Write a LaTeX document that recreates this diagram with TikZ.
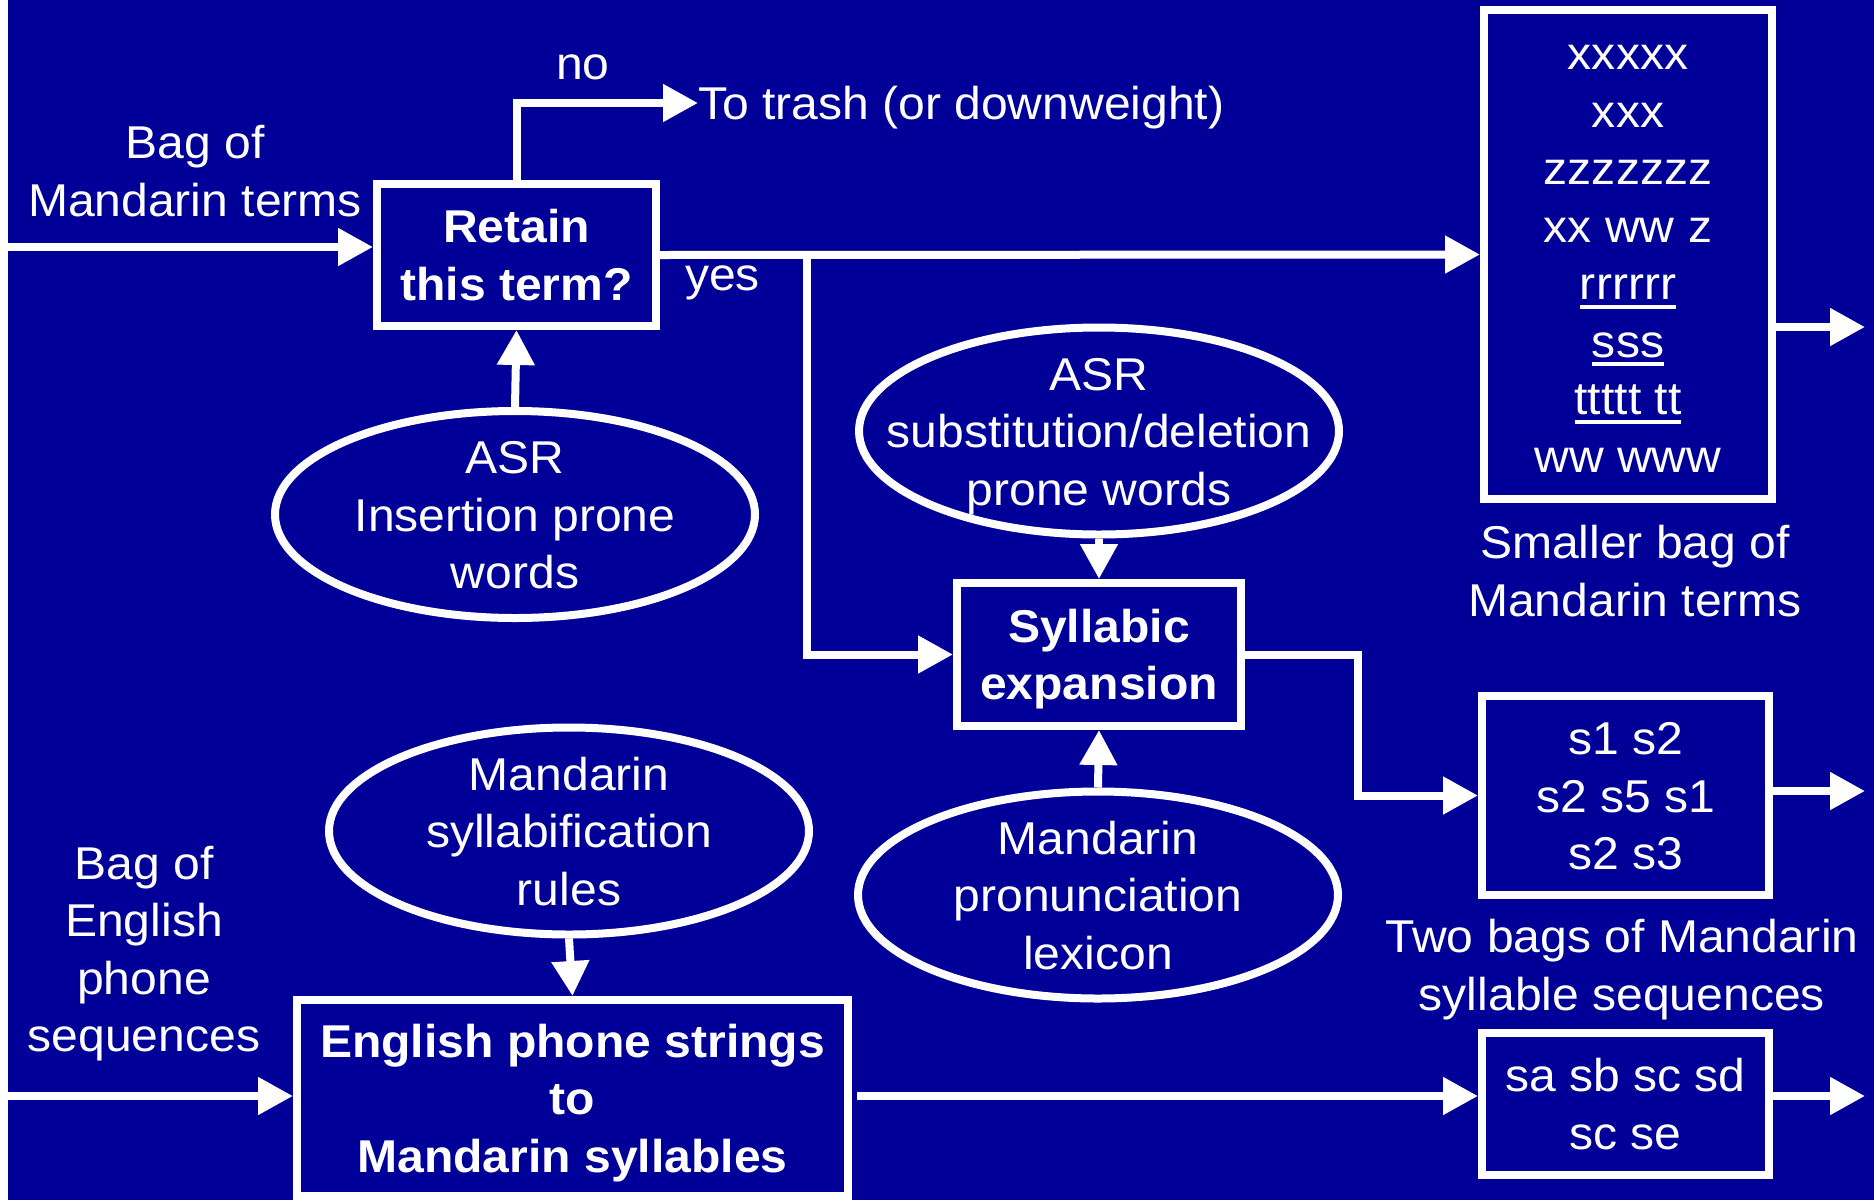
\documentclass[tikz,border=0pt]{standalone}
\usepackage{fontspec}
\setmainfont[FakeStretch=1.045]{Liberation Sans}
\usetikzlibrary{arrows.meta,shapes.geometric}
\definecolor{slideblue}{RGB}{0,0,153}
% invisible strut giving every text line the same height and depth
\newcommand\lnstrut{\rule[-11pt]{0pt}{55pt}}
% underlined entry with a thick bar below the baseline
\newcommand\ulbar[1]{\setbox0\hbox{#1}\rlap{\rule[-9pt]{\wd0}{4pt}}\box0}
\begin{document}
\begin{tikzpicture}[x=1pt,y=-1pt,
  txt/.style={text=white,font=\fontsize{46}{57.5}\selectfont,align=center,inner sep=0pt,outer sep=0pt},
  bold/.style={font=\fontsize{46}{57.5}\selectfont\bfseries},
  box/.style={txt,draw=white,line width=8pt,rectangle,outer sep=4pt},
  oval/.style={txt,draw=white,line width=8pt,ellipse,inner sep=-500pt,outer sep=4pt,
               minimum width=480pt,minimum height=207pt},
  arr/.style={white,line width=8pt,-{Triangle[length=35pt,width=36pt]}}]
\useasboundingbox (0,0) rectangle (1874,1200);
\fill[slideblue] (0,0) rectangle (1874,1200);
\fill[white] (0,0) rectangle (8,1200);

% process boxes
\node[box,bold,minimum width=279pt,minimum height=142pt] (ret) at (516.5,255)
  {\lnstrut Retain\\\lnstrut this term?};
\node[box,bold,minimum width=284pt,minimum height=143pt] (syl) at (1099,654.5)
  {\lnstrut Syllabic\\\lnstrut expansion};
\node[box,bold,minimum width=551pt,minimum height=196pt] (eng) at (572.5,1098)
  {\lnstrut English phone strings\\\lnstrut to\\\lnstrut Mandarin syllables};

% output bags
\node[box,minimum width=288pt,minimum height=489pt] (big) at (1628,254.5)
  {\lnstrut xxxxx\\\lnstrut xxx\\\lnstrut zzzzzzz\\\lnstrut xx ww z\\
   \lnstrut\ulbar{rrrrrr}\\\lnstrut\ulbar{sss}\\\lnstrut\ulbar{ttttt tt}\\\lnstrut ww www};
\node[box,minimum width=287pt,minimum height=199pt] (sb) at (1625.5,795.5)
  {\lnstrut s1 s2\\\lnstrut s2 s5 s1\\\lnstrut s2 s3};
\node[box,minimum width=287pt,minimum height=142pt] (sa) at (1625.5,1104)
  {\lnstrut sa sb sc sd\\\lnstrut sc se};

% knowledge sources
\node[oval] (ins) at (515,514.5) {\lnstrut ASR\\\lnstrut Insertion prone\\\lnstrut words};
\node[oval] (sub) at (1099,431) {\lnstrut ASR\\\lnstrut substitution/deletion\\\lnstrut prone words};
\node[oval] (pron) at (1098,895) {\lnstrut Mandarin\\\lnstrut pronunciation\\\lnstrut lexicon};
\node[oval] (syb) at (569,831) {\lnstrut Mandarin\\\lnstrut syllabification\\\lnstrut rules};

% free labels
\node[txt] (bagm) at (195,171) {\lnstrut Bag of\\\lnstrut Mandarin terms};
\node[txt] (bage) at (144,949) {\lnstrut Bag of\\\lnstrut English\\\lnstrut phone\\\lnstrut sequences};
\node[txt] (smaller) at (1635,571) {\lnstrut Smaller bag of\\\lnstrut Mandarin terms};
\node[txt] (two) at (1622,965) {\lnstrut Two bags of Mandarin\\\lnstrut syllable sequences};
\node[txt] (no) at (583,62.5) {\lnstrut no};
\node[txt,anchor=west] (yes) at (685,273.5) {\lnstrut yes};
\node[txt,anchor=west] (trash) at (698,103) {\lnstrut To trash (or downweight)};

% connectors
\coordinate (in1) at (8,247);
\coordinate (br) at (807,255);
\coordinate (bend) at (1358,654.5);
\coordinate (in2) at (8,1096);
\coordinate (e2) at (857,1096);
\coordinate (o1) at (1865,327);
\coordinate (o2) at (1865,791);
\coordinate (o3) at (1865,1096);

\draw[arr] (in1) -- (in1 -| ret.west);
\draw[arr] (ret.north) |- (trash.west);
\draw[arr] (ret.east) -- (big.west);
\draw[arr] (br) |- (syl.west);
\draw[arr] (ins.north) -- (ret.south);
\draw[arr] (sub.south) -- (syl.north);
\draw[arr] (pron.north) -- (syl.south);
\draw[arr] (syl.east) -- (syl.east -| bend) |- (sb.west);
\draw[arr] (o1 -| big.east) -- (o1);
\draw[arr] (o2 -| sb.east) -- (o2);
\draw[arr] (in2) -- (in2 -| eng.west);
\draw[arr] (syb.south) -- (eng.north);
\draw[arr] (e2) -- (e2 -| sa.west);
\draw[arr] (o3 -| sa.east) -- (o3);
\end{tikzpicture}
\end{document}
